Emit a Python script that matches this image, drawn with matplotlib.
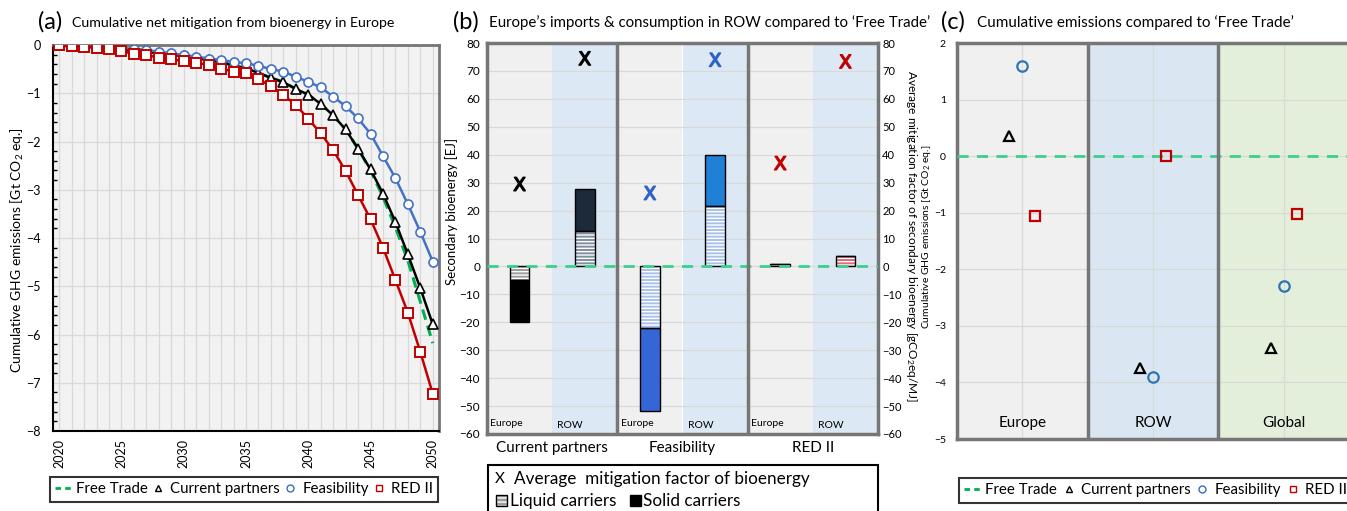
import matplotlib
matplotlib.use("Agg")
import matplotlib.pyplot as plt
from matplotlib.lines import Line2D
from matplotlib.patches import Rectangle
import numpy as np

plt.rcParams['font.family'] = ['Lato', 'DejaVu Sans']
plt.rcParams['mathtext.default'] = 'regular'

# ---- panel (a): cumulative net mitigation in Europe [Gt CO2 eq.]
years = list(range(2020, 2051))
free_trade = [-0.01, -0.02, -0.03, -0.05, -0.07, -0.09, -0.12, -0.14, -0.17, -0.20,
              -0.23, -0.27, -0.31, -0.36, -0.42, -0.48, -0.58, -0.68, -0.77, -0.91,
              -1.03, -1.22, -1.46, -1.75, -2.15, -2.60, -3.15, -3.78, -4.47, -5.32, -6.18]
current_partners = [-0.01, -0.02, -0.03, -0.05, -0.07, -0.09, -0.12, -0.14, -0.17, -0.20,
                    -0.23, -0.27, -0.31, -0.36, -0.42, -0.48, -0.58, -0.68, -0.77, -0.91,
                    -1.03, -1.22, -1.46, -1.75, -2.15, -2.58, -3.08, -3.67, -4.34, -5.04, -5.79]
feasibility = [-0.01, -0.02, -0.03, -0.04, -0.05, -0.06, -0.08, -0.10, -0.14, -0.17,
               -0.21, -0.24, -0.28, -0.31, -0.35, -0.38, -0.43, -0.50, -0.55, -0.66,
               -0.76, -0.88, -1.07, -1.27, -1.52, -1.84, -2.30, -2.76, -3.30, -3.87, -4.49]
red_ii = [-0.01, -0.03, -0.04, -0.06, -0.09, -0.13, -0.18, -0.21, -0.26, -0.30,
          -0.33, -0.37, -0.41, -0.49, -0.55, -0.59, -0.71, -0.85, -1.04, -1.24,
          -1.53, -1.83, -2.18, -2.61, -3.11, -3.61, -4.20, -4.87, -5.55, -6.36, -7.23]

# ---- panel (b): secondary bioenergy [EJ] and mitigation factor [gCO2eq/MJ]
scenarios = ["Current partners", "Feasibility", "RED II"]
liquid_europe = [-4.9, -21.9, 0.8]
solid_europe = [-15.1, -29.9, 0.0]
liquid_row = [12.8, 21.7, 3.8]
solid_row = [14.8, 18.2, 0.0]
mitig_europe = [29.5, 26.3, 37.0]
mitig_row = [74.5, 74.0, 73.4]

# ---- panel (c): cumulative emissions vs Free Trade [Gt CO2 eq.]
regions = ["Europe", "ROW", "Global"]
c_current = [0.35, -3.75, -3.40]
c_feasibility = [1.60, -3.90, -2.30]
c_red_ii = [-1.05, 0.00, -1.02]

W, H = 1347, 511
fig = plt.figure(figsize=(W / 100, H / 100), dpi=100)

GREEN = '#00b050'
BLUE = '#4472c4'
RED = '#c00000'
FRAME = '#767676'
GRID = '#d9d9d9'


def px(x0, y0, x1, y1):
    return [x0 / W, 1 - y1 / H, (x1 - x0) / W, (y1 - y0) / H]


# ================= (a)
ax = fig.add_axes(px(53, 45, 439, 431))
ax.set_facecolor('#f2f2f2')
ax.plot(years, free_trade, color=GREEN, ls='--', lw=2.2, dashes=(3.5, 2), zorder=3)
ax.plot(years, current_partners, color='black', lw=1.8, marker='^', ms=6.5,
        mfc='white', mec='black', mew=1.2, zorder=4)
ax.plot(years, feasibility, color=BLUE, lw=1.8, marker='o', ms=6.5,
        mfc='white', mec=BLUE, mew=1.2, zorder=4)
ax.plot(years, red_ii, color=RED, lw=1.8, marker='s', ms=6.5,
        mfc='white', mec=RED, mew=1.4, zorder=5)
ax.set_xlim(2019.5, 2050.5)
ax.set_ylim(-8, 0)
ax.set_xticks(range(2020, 2051, 5))
ax.set_xticks(range(2020, 2051), minor=True)
ax.set_yticks(range(-8, 1))
ax.set_yticks(np.arange(-8, 0.01, 0.2), minor=True)
ax.tick_params(axis='x', which='both', length=0, labelsize=9, labelrotation=90, pad=6)
ax.tick_params(axis='y', which='major', length=0, labelsize=9, pad=9)
ax.tick_params(axis='y', which='minor', direction='in', length=3, width=1)
ax.grid(which='both', axis='x', color=GRID, lw=0.9)
ax.grid(which='major', axis='y', color=GRID, lw=0.9)
ax.set_axisbelow(True)
for s in ['left', 'bottom']:
    ax.spines[s].set_color('black')
    ax.spines[s].set_linewidth(1.5)
for s in ['top', 'right']:
    ax.spines[s].set_color(FRAME)
    ax.spines[s].set_linewidth(2)
ax.set_ylabel('Cumulative GHG emissions [Gt CO$_2$ eq.]', fontsize=10)
ax.yaxis.set_label_coords(-27 / 386, 0.47)

fig.text(38 / W, 1 - 22 / H, '(a)', fontsize=17, va='center')
fig.text(72 / W, 1 - 23 / H, 'Cumulative net mitigation from bioenergy in Europe',
         fontsize=10.2, va='center')

# ================= (b)
axb = fig.add_axes(px(487, 43, 878, 434))
axb.set_xlim(0, 6)
axb.set_ylim(-60, 80)
for g in range(3):
    axb.axvspan(2 * g, 2 * g + 1, color='#f0f0f0', zorder=0, lw=0)
    axb.axvspan(2 * g + 1, 2 * g + 2, color='#dce8f4', zorder=0, lw=0)
    axb.text(2 * g + 0.05, -58, 'Europe', fontsize=7.5, va='bottom', zorder=6)
    axb.text(2 * g + 1.08, -58.5, 'ROW', fontsize=7.5, va='bottom', zorder=6)
for y in range(-60, 81, 10):
    axb.axhline(y, color=GRID, lw=0.9, zorder=1)
for g in (2, 4):
    axb.axvline(g, color=FRAME, lw=2.5, zorder=6)

xe = np.arange(3) * 2 + 0.5
xr = np.arange(3) * 2 + 1.5
bw = 0.3
liq_eu_c = ['#9d9d9d', '#a8c2ea', '#f6d7da']
sol_eu_c = ['black', '#3566d6', RED]
liq_row_c = ['#7f8fa0', '#a8c2ea', '#e26a78']
sol_row_c = ['#1c2a3a', '#1f80d6', RED]
for xs, liq, sol, lc, sc in [(xe, liquid_europe, solid_europe, liq_eu_c, sol_eu_c),
                             (xr, liquid_row, solid_row, liq_row_c, sol_row_c)]:
    axb.bar(xs, liq, bw, color=lc, edgecolor='white', hatch='-----', lw=0, zorder=3)
    axb.bar(xs, liq, bw, fill=False, edgecolor='black', lw=1, zorder=4)
    axb.bar(xs, sol, bw, bottom=liq, color=sc, edgecolor='black', lw=1, zorder=3)
axb.axhline(0, color='#3ccf8e', ls='--', lw=2, dashes=(4, 3), zorder=5)

axb.set_yticks(range(-60, 81, 10))
axb.set_xticks([1, 3, 5])
axb.set_xticklabels(scenarios)
axb.tick_params(axis='y', length=0, labelsize=8.5, pad=5)
axb.tick_params(axis='x', length=0, labelsize=11, pad=5)
for s in axb.spines.values():
    s.set_color(FRAME)
    s.set_linewidth(2.5)
axb.set_ylabel('Secondary bioenergy [EJ]', fontsize=9.5)
axb.yaxis.set_label_coords(-29 / 391, 0.57)

axb2 = axb.twinx()
axb2.set_ylim(-60, 80)
axb2.set_yticks(range(-60, 81, 10))
axb2.tick_params(axis='y', length=0, labelsize=8, pad=3)
for s in axb2.spines.values():
    s.set_visible(False)
x_cols = ['black', '#2f62c8', RED]
axb2.scatter(xe, mitig_europe, marker='$\\mathsf{X}$', s=95, c=x_cols, zorder=7)
axb2.scatter(xr, mitig_row, marker='$\\mathsf{X}$', s=95, c=x_cols, zorder=7)
fig.text(911 / W, 1 - 236 / H,
         'Average mitigation factor of secondary bioenergy [gCO$_2$eq/MJ]',
         rotation=270, fontsize=8.6, ha='center', va='center')

fig.text(453 / W, 1 - 22 / H, '(b)', fontsize=17, va='center')
fig.text(489 / W, 1 - 23 / H, 'Europe\u2019s imports & consumption in ROW compared to \u2018Free Trade\u2019',
         fontsize=10.8, va='center')

# legend (b) drawn by hand
fig.add_artist(Rectangle((488 / W, 1 - 525 / H), 390 / W, 60 / H, transform=fig.transFigure,
                         fill=False, ec='black', lw=1.5))
fig.text(495 / W, 1 - 479 / H, 'X', fontsize=11, va='center')
fig.text(514 / W, 1 - 479 / H, 'Average  mitigation factor of bioenergy', fontsize=12.3, va='center')
fig.add_artist(Rectangle((496 / W, 1 - 506 / H), 11 / W, 11 / H, transform=fig.transFigure,
                         fc='#9d9d9d', ec='white', hatch='----', lw=0))
fig.add_artist(Rectangle((496 / W, 1 - 506 / H), 11 / W, 11 / H, transform=fig.transFigure,
                         fill=False, ec='black', lw=1))
fig.text(510 / W, 1 - 501 / H, 'Liquid carriers', fontsize=12.3, va='center')
fig.add_artist(Rectangle((630 / W, 1 - 506 / H), 11 / W, 11 / H, transform=fig.transFigure,
                         fc='black', ec='black', lw=1))
fig.text(643 / W, 1 - 501 / H, 'Solid carriers', fontsize=12.3, va='center')

# ================= (c)
axc = fig.add_axes(px(957, 43, 1349, 439))
axc.set_xlim(-0.5, 2.5)
axc.set_ylim(-5, 2)
bgs = ['#f0f0f0', '#dae7f3', '#e3efda']
for i, r in enumerate(regions):
    axc.axvspan(i - 0.5, i + 0.5, color=bgs[i], zorder=0, lw=0)
    axc.text(i, -4.72, r, ha='center', va='center', fontsize=11, zorder=6)
axc.set_xticks(range(3))
axc.set_xticklabels([])
axc.set_yticks(range(-5, 3))
axc.grid(color=GRID, lw=0.9)
axc.set_axisbelow(True)
for g in (0.5, 1.5):
    axc.axvline(g, color=FRAME, lw=2.5, zorder=4)
axc.axhline(0, color='#3ccf8e', ls='--', lw=2, dashes=(4, 3), zorder=3)
xc = np.arange(3)
axc.plot(xc - 0.1, c_current, ls='none', marker='^', ms=7, mfc='none', mec='black', mew=1.6, zorder=5)
axc.plot(xc, c_feasibility, ls='none', marker='o', ms=7.5, mfc='none', mec='#2e75b6', mew=1.6, zorder=5)
axc.plot(xc + 0.1, c_red_ii, ls='none', marker='s', ms=7, mfc='none', mec=RED, mew=1.6, zorder=5)
axc.tick_params(axis='both', length=0, labelsize=7.5, pad=8)
for s in axc.spines.values():
    s.set_color(FRAME)
    s.set_linewidth(2.5)
axc.set_ylabel('Cumulative GHG emissions [Gt CO$_2$ eq.]', fontsize=7.5)
axc.yaxis.set_label_coords(-24 / 392, 0.51)

fig.text(941 / W, 1 - 22 / H, '(c)', fontsize=17, va='center')
fig.text(977 / W, 1 - 23 / H, 'Cumulative emissions compared to \u2018Free Trade\u2019',
         fontsize=11, va='center')

# ---- legends (a) and (c)
handles = [Line2D([], [], color=GREEN, ls='--', lw=2, dashes=(2, 1.5)),
           Line2D([], [], ls='none', marker='^', ms=5, mfc='white', mec='black', mew=1),
           Line2D([], [], ls='none', marker='o', ms=5, mfc='white', mec='#2e75b6', mew=1),
           Line2D([], [], ls='none', marker='s', ms=5, mfc='white', mec=RED, mew=1)]
labels = ['Free Trade', 'Current partners', 'Feasibility', 'RED II']
for x0, x1, y0 in [(50, 438, 477), (959, 1352, 478)]:
    leg = fig.legend(handles, labels, loc='upper left', mode='expand', ncol=4,
                     bbox_to_anchor=(x0 / W, 1 - (y0 + 40) / H, (x1 - x0) / W, 40 / H),
                     fontsize=10.8, frameon=True, fancybox=False, edgecolor='black',
                     handlelength=1.2, handletextpad=0.2, columnspacing=0.4,
                     borderpad=0.35, borderaxespad=0)
    leg.get_frame().set_linewidth(1.5)

fig.savefig('out.png', dpi=100)
